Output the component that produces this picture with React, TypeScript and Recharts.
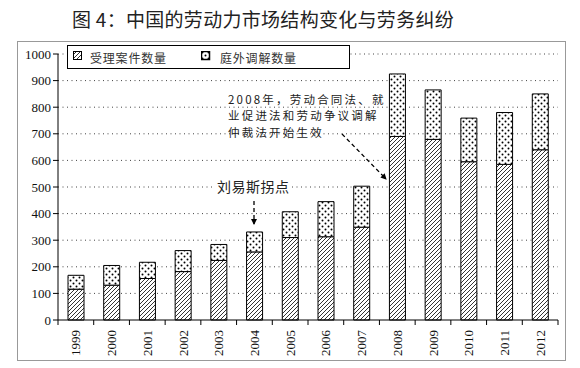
import { BarChart, Bar, XAxis, YAxis, CartesianGrid } from 'recharts';

// 年份
const years = ['1999', '2000', '2001', '2002', '2003', '2004', '2005', '2006', '2007', '2008', '2009', '2010', '2011', '2012'];
// 受理案件数量（斜线部分）
const accepted = [116, 131, 156, 182, 224, 256, 310, 313, 349, 690, 679, 595, 585, 640];
// 庭外调解数量（点状部分，叠加在上面）
const mediated = [52, 74, 61, 79, 60, 75, 97, 132, 154, 235, 186, 164, 195, 210];
const yTicks = [0, 100, 200, 300, 400, 500, 600, 700, 800, 900, 1000];

// 2008 年注释，分三行
const noteLines = ['2008年，劳动合同法、就', '业促进法和劳动争议调解', '仲裁法开始生效'];

const data = years.map((year, i) => ({
  year,
  accepted: accepted[i],
  mediated: mediated[i],
}));

const serif = '"Liberation Serif", "Times New Roman", serif';
const cjk = '"Noto Sans CJK SC", sans-serif';

// x 轴刻度：竖排年份 + 类目之间的刻度线
const YearTick = (props: any) => {
  const { x, y, payload, index } = props;
  const half = payload.offset || 500 / years.length / 2;
  return (
    <g>
      <line x1={x - half} y1={y - 8} x2={x - half} y2={y - 3} stroke="#000" />
      {index === years.length - 1 && (
        <line x1={x + half} y1={y - 8} x2={x + half} y2={y - 3} stroke="#000" />
      )}
      <text
        transform={`translate(${x},${y + 2}) rotate(-90)`}
        textAnchor="end"
        dy="0.35em"
        fontSize={13}
        fontFamily={serif}
        fill="#111"
      >
        {payload.value}
      </text>
    </g>
  );
};

export default function App() {
  return (
    <div style={{ position: 'absolute', left: 0, top: 0, width: 580, height: 368, background: '#fff' }}>
      {/* 图案定义 */}
      <svg width={0} height={0} style={{ position: 'absolute' }}>
        <defs>
          <pattern id="hatch" width={4} height={4} patternUnits="userSpaceOnUse">
            <rect width={4} height={4} fill="#fff" />
            <path d="M-1,1 l2,-2 M0,4 l4,-4 M3,5 l2,-2" stroke="#000" strokeWidth={0.8} />
          </pattern>
          <pattern id="dots" width={6} height={6} patternUnits="userSpaceOnUse">
            <rect width={6} height={6} fill="#fff" />
            <circle cx={1.5} cy={1.5} r={1} fill="#000" />
            <circle cx={4.5} cy={4.5} r={1} fill="#000" />
          </pattern>
        </defs>
      </svg>

      {/* 标题 */}
      <div
        style={{
          position: 'absolute',
          left: 0,
          width: 526,
          top: 5,
          textAlign: 'center',
          fontFamily: cjk,
          fontSize: 19,
          color: '#222',
          letterSpacing: 0.3,
        }}
      >
        图 4：中国的劳动力市场结构变化与劳务纠纷
      </div>

      {/* 外框 */}
      <div style={{ position: 'absolute', left: 17, top: 41, width: 547, height: 318, border: '1px solid #999' }} />

      <div style={{ position: 'absolute', left: 0, top: 0 }}>
        <BarChart
          width={580}
          height={368}
          data={data}
          margin={{ top: 54, right: 22, bottom: 8, left: 18 }}
          barSize={16}
        >
          <CartesianGrid vertical={false} stroke="#444" strokeDasharray="1 3.5" horizontalValues={yTicks.slice(1)} />
          <XAxis
            dataKey="year"
            height={40}
            axisLine={{ stroke: '#000' }}
            tickLine={false}
            tick={<YearTick />}
            interval={0}
          />
          <YAxis
            width={40}
            domain={[0, 1000]}
            ticks={yTicks}
            axisLine={{ stroke: '#000' }}
            tickLine={{ stroke: '#000' }}
            tickSize={5}
            tick={{ fontSize: 13, fontFamily: serif, fill: '#111' }}
          />
          <Bar dataKey="accepted" stackId="a" fill="url(#hatch)" stroke="#000" strokeWidth={1} isAnimationActive={false} />
          <Bar dataKey="mediated" stackId="a" fill="url(#dots)" stroke="#000" strokeWidth={1} isAnimationActive={false} />
        </BarChart>
      </div>

      {/* 图例 */}
      <div
        style={{
          position: 'absolute',
          left: 67,
          top: 45,
          width: 281,
          height: 22,
          border: '1px solid #000',
          background: '#fff',
          fontFamily: cjk,
          fontSize: 12,
          color: '#333',
        }}
      >
        <svg width={10} height={10} style={{ position: 'absolute', left: 5, top: 5 }}>
          <rect x={0.5} y={0.5} width={8} height={8} fill="url(#hatch)" stroke="#000" />
        </svg>
        <span style={{ position: 'absolute', left: 22, top: 3, letterSpacing: 0.8 }}>受理案件数量</span>
        <svg width={10} height={10} style={{ position: 'absolute', left: 133, top: 5 }}>
          <rect x={0.5} y={0.5} width={8} height={8} fill="url(#dots)" stroke="#000" strokeWidth={1.5} />
        </svg>
        <span style={{ position: 'absolute', left: 152, top: 3, letterSpacing: 0.8 }}>庭外调解数量</span>
      </div>

      {/* 注释 */}
      <svg width={580} height={368} style={{ position: 'absolute', left: 0, top: 0, pointerEvents: 'none' }}>
        <defs>
          <marker id="arrow" markerWidth={6} markerHeight={6} refX={5} refY={3} orient="auto" markerUnits="userSpaceOnUse">
            <path d="M0,0 L6,3 L0,6 z" fill="#000" />
          </marker>
        </defs>
        {noteLines.map((line, i) => (
          <text
            key={line}
            x={228}
            y={99.5 + i * 16.7}
            dy="0.35em"
            fontFamily={cjk}
            fontSize={11.5}
            letterSpacing={2.2}
            fill="#222"
          >
            {line}
          </text>
        ))}
        <rect x={214} y={178} width={78} height={18} fill="#fff" />
        <text x={217} y={187} dy="0.35em" fontFamily={cjk} fontSize={14} letterSpacing={0.5} fill="#222">
          刘易斯拐点
        </text>
        <line x1={254} y1={201} x2={254} y2={224} stroke="#000" strokeWidth={1.3} strokeDasharray="4 3" markerEnd="url(#arrow)" />
        <line x1={342} y1={134} x2={386} y2={179} stroke="#000" strokeWidth={1.3} strokeDasharray="4 3" markerEnd="url(#arrow)" />
      </svg>
    </div>
  );
}
